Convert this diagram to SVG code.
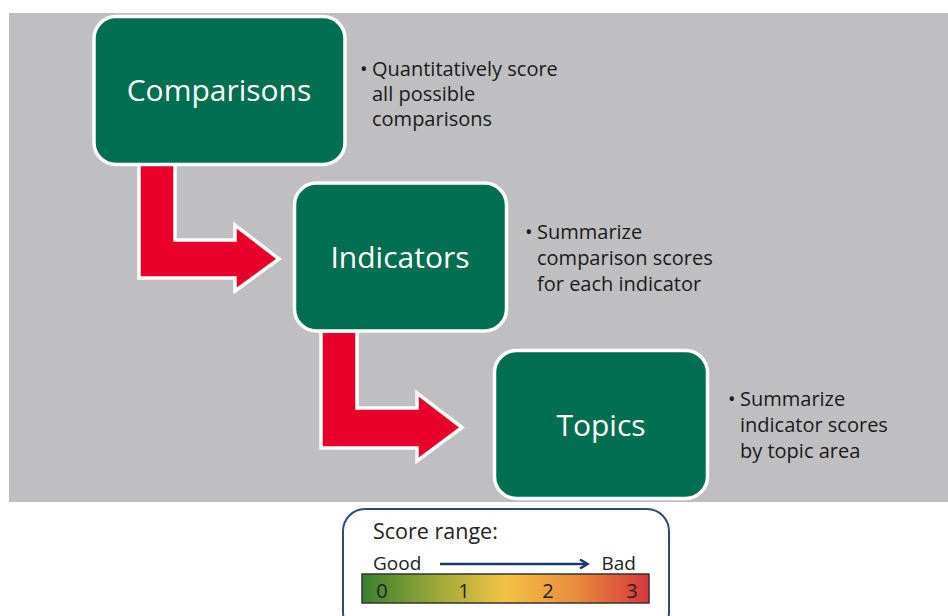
<svg xmlns="http://www.w3.org/2000/svg" width="948" height="616" viewBox="0 0 948 616">
<style>
.box{fill:#006e50;stroke:#ffffff;stroke-width:3.5}
.lbl{font-family:"Open Sans","Liberation Sans",sans-serif;font-size:30px;fill:#ffffff;text-anchor:middle}
.arr{fill:#e8002a;stroke:#ffffff;stroke-width:3.5;stroke-linejoin:miter}
.bt{font-family:"Open Sans","Liberation Sans",sans-serif;font-size:20px;fill:#1a1a1a}
.lg{font-family:"Open Sans","Liberation Sans",sans-serif;fill:#222222}
</style>
<defs>
<linearGradient id="grad" x1="0" y1="0" x2="1" y2="0">
<stop offset="0" stop-color="#3b7f2e"/>
<stop offset="0.28" stop-color="#a3ab3a"/>
<stop offset="0.5" stop-color="#f4c244"/>
<stop offset="0.75" stop-color="#e98a3c"/>
<stop offset="1" stop-color="#d7363c"/>
</linearGradient>
<marker id="ah" markerWidth="12" markerHeight="12" refX="9" refY="6" orient="auto" markerUnits="userSpaceOnUse">
<path d="M2,1.5 L9.5,6 L2,10.5" fill="none" stroke="#1f3864" stroke-width="2.5"/>
</marker>
</defs>
<rect x="9" y="13" width="939" height="489" fill="#bfbfc1"/>
<g id="connectors">
<polygon class="arr" points="139,163 175,163 175,240 235,240 235,225 279,259 235,291 235,278 139,278"/>
<polygon class="arr" points="321,331 357,331 357,408 417,408 417,393 462,427.5 417,461 417,448 321,448"/>
</g>
<g id="node-comparisons">
<rect class="box" x="94" y="16.5" width="251" height="148" rx="22"/>
<text class="lbl" x="219" y="101">Comparisons</text>
</g>
<g id="node-indicators">
<rect class="box" x="294.5" y="183" width="212" height="148" rx="22"/>
<text class="lbl" x="400" y="268">Indicators</text>
</g>
<g id="node-topics">
<rect class="box" x="494.5" y="350.5" width="213" height="148" rx="22"/>
<text class="lbl" x="601" y="436">Topics</text>
</g>
<g id="note-comparisons">
<text class="bt" x="360" y="76">•</text>
<text class="bt" x="372" y="76">Quantitatively score</text>
<text class="bt" x="372" y="101">all possible</text>
<text class="bt" x="372" y="126">comparisons</text>
</g>
<g id="note-indicators">
<text class="bt" x="525" y="239">•</text>
<text class="bt" x="537" y="239">Summarize</text>
<text class="bt" x="537" y="265">comparison scores</text>
<text class="bt" x="537" y="291">for each indicator</text>
</g>
<g id="note-topics">
<text class="bt" x="728" y="406">•</text>
<text class="bt" x="740" y="406">Summarize</text>
<text class="bt" x="740" y="432">indicator scores</text>
<text class="bt" x="740" y="458">by topic area</text>
</g>
<g id="legend">
<rect x="343" y="509" width="326" height="125" rx="22" fill="#ffffff" stroke="#2f4b7c" stroke-width="2"/>
<text class="lg" x="373" y="539" font-size="21.5">Score range:</text>
<text class="lg" x="373" y="570" font-size="19">Good</text>
<text class="lg" x="636" y="570" font-size="19" text-anchor="end">Bad</text>
<line x1="440" y1="564" x2="587" y2="564" stroke="#1f3864" stroke-width="2.5" marker-end="url(#ah)"/>
<rect x="362" y="574" width="287" height="29" fill="url(#grad)" stroke="#333333" stroke-width="1.5"/>
<text class="lg" x="382" y="598" font-size="20" text-anchor="middle">0</text>
<text class="lg" x="464" y="598" font-size="20" text-anchor="middle">1</text>
<text class="lg" x="548" y="598" font-size="20" text-anchor="middle">2</text>
<text class="lg" x="632" y="598" font-size="20" text-anchor="middle">3</text>
</g>
</svg>
